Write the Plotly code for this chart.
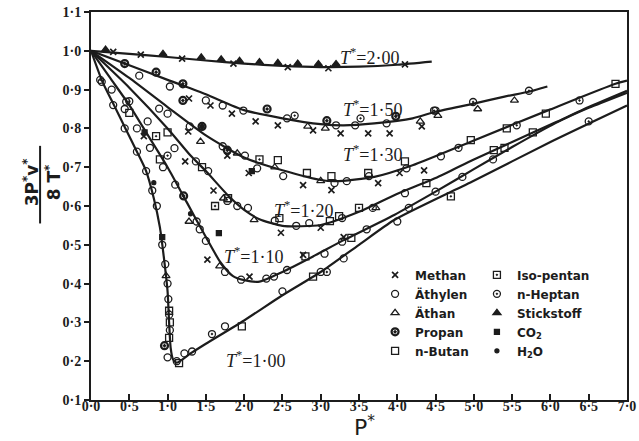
import plotly.graph_objects as go

# ---------------- data ----------------
x_ticks = [0.0, 0.5, 1.0, 1.5, 2.0, 2.5, 3.0, 3.5, 4.0, 4.5, 5.0, 5.5, 6.0, 6.5, 7.0]
x_ticklabels = ["0·0", "0·5", "1·0", "1·5", "2·0", "2·5", "3·0", "3·5", "4·0", "4·5",
                "5·0", "5·5", "6·0", "6·5", "7·0"]
y_ticks = [0.1, 0.2, 0.3, 0.4, 0.5, 0.6, 0.7, 0.8, 0.9, 1.0, 1.1]
y_ticklabels = ["0·1", "0·2", "0·3", "0·4", "0·5", "0·6", "0·7", "0·8", "0·9", "1·0", "1·1"]

# isotherm curves (P*, 3P*v*/8T*)
t200_x = [0, 0.5, 1.0, 1.5, 2.0, 2.5, 3.0, 3.5, 4.0, 4.45]
t200_y = [1.0, 0.992, 0.984, 0.975, 0.967, 0.961, 0.958, 0.959, 0.964, 0.972]

t150_x = [0, 0.5, 1.0, 1.5, 2.0, 2.5, 3.0, 3.3, 3.7, 4.2, 4.5, 5.0, 5.4, 5.73, 5.96]
t150_y = [1.0, 0.963, 0.925, 0.888, 0.847, 0.826, 0.811, 0.808, 0.813, 0.826, 0.843, 0.864, 0.882, 0.895, 0.908]

t130_x = [0, 0.5, 1.0, 1.5, 2.0, 2.5, 3.0, 3.2, 3.7, 4.2, 5.0, 6.0, 6.85, 7.0]
t130_y = [1.0, 0.93, 0.855, 0.782, 0.725, 0.692, 0.667, 0.664, 0.675, 0.705, 0.769, 0.849, 0.915, 0.923]

t120_x = [0, 0.5, 1.0, 1.3, 1.5, 1.8, 2.0, 2.2, 2.5, 3.0, 3.5, 3.96, 4.5, 5.0, 5.5, 6.06, 6.5, 7.0]
t120_y = [1.0, 0.905, 0.8, 0.73, 0.69, 0.625, 0.59, 0.566, 0.549, 0.551, 0.585, 0.628, 0.672, 0.72, 0.765, 0.815, 0.855, 0.897]

t110_x = [0, 0.25, 0.5, 0.75, 1.0, 1.25, 1.5, 1.69, 1.85, 2.0, 2.2, 2.5, 2.9, 3.3, 3.96, 4.5, 5.0, 5.5, 6.06, 6.5, 7.0]
t110_y = [1.0, 0.93, 0.86, 0.78, 0.7, 0.61, 0.52, 0.455, 0.42, 0.409, 0.405, 0.43, 0.47, 0.512, 0.577, 0.637, 0.695, 0.752, 0.813, 0.853, 0.892]

t100_x = [0, 0.15, 0.3, 0.45, 0.6, 0.72, 0.82, 0.9, 0.95, 1.0, 1.02, 1.04, 1.07, 1.12, 1.3, 1.5, 2.0, 2.5, 3.0, 3.5, 3.96, 5.0, 6.0, 7.0]
t100_y = [1.0, 0.92, 0.86, 0.8, 0.74, 0.69, 0.62, 0.545, 0.47, 0.38, 0.3, 0.235, 0.205, 0.196, 0.22, 0.245, 0.305, 0.37, 0.43, 0.5, 0.564, 0.665, 0.765, 0.859]

curve_labels = ["2·00", "1·50", "1·30", "1·20", "1·10", "1·00"]
label_x = [3.64, 3.67, 3.67, 2.78, 2.12, 2.15]
label_y = [0.985, 0.851, 0.736, 0.59, 0.473, 0.205]

# measured points, by substance
methan_x = [0.29, 0.65, 1.19, 1.86, 2.57, 3.1, 4.1,
            1.28, 1.56, 1.84, 2.15, 2.44, 2.9, 3.26, 3.62, 3.9, 4.32,
            0.69, 1.27, 1.78, 2.06, 2.77, 3.14, 3.75, 4.03, 4.35,
            1.23, 1.6, 2.48, 3.0,
            1.52, 2.07, 2.77, 3.3]
methan_y = [0.997, 0.99, 0.98, 0.967, 0.958, 0.955, 0.965,
            0.877, 0.859, 0.838, 0.818, 0.808, 0.795, 0.787, 0.787, 0.787, 0.805,
            0.78, 0.792, 0.73, 0.685, 0.654, 0.641, 0.659, 0.685, 0.692,
            0.715, 0.64, 0.531, 0.544,
            0.462, 0.418, 0.474, 0.52]

aethylen_x = [0.63, 1.03, 1.5, 1.72, 1.99, 2.56, 3.2, 3.45, 3.86, 4.5,
              0.89, 1.0, 1.29, 1.72, 2.01, 2.17, 2.51, 3.18, 3.34, 3.63, 4.12, 4.57,
              0.46, 0.74, 1.09, 1.37, 1.53, 1.78, 1.91, 2.05, 2.4, 2.68, 2.85, 3.28, 3.68, 4.1,
              0.27, 0.44, 0.6, 0.77, 0.94, 1.1, 1.38, 1.42, 1.5, 1.75, 1.96, 2.29, 2.39, 2.56,
              3.05, 3.28, 3.6, 4.15, 4.5, 4.85, 5.25,
              0.14, 0.29, 0.44, 0.6, 0.72, 0.8, 0.86, 0.93, 0.97, 1.0, 1.01, 1.02, 1.03,
              1.0, 1.12, 1.22, 1.32, 1.75, 2.5, 3.0, 3.3, 4.0]
aethylen_y = [0.936, 0.908, 0.872, 0.859, 0.846, 0.826, 0.808, 0.808, 0.813, 0.846,
              0.851, 0.838, 0.805, 0.754, 0.73, 0.697, 0.677, 0.659, 0.664, 0.677, 0.697, 0.728,
              0.869, 0.818, 0.749, 0.715, 0.69, 0.613, 0.6, 0.595, 0.562, 0.549, 0.556, 0.569, 0.595, 0.633,
              0.9, 0.85, 0.8, 0.75, 0.7, 0.655, 0.56, 0.54, 0.51, 0.43, 0.41, 0.413, 0.418, 0.435,
              0.477, 0.508, 0.54, 0.595, 0.637, 0.675, 0.72,
              0.92, 0.86, 0.8, 0.74, 0.69, 0.64, 0.6, 0.5, 0.45, 0.4, 0.36, 0.32, 0.28,
              0.21, 0.2, 0.22, 0.225, 0.29, 0.38, 0.43, 0.465, 0.56]

aethan_x = [2.83, 3.06, 4.3, 4.53, 5.05, 5.53,
            1.43, 1.91, 2.4, 3.0,
            1.73, 2.13, 3.72,
            1.28, 1.68,
            0.98]
aethan_y = [0.805, 0.8, 0.818, 0.833, 0.85, 0.872,
            0.766, 0.736, 0.7, 0.665,
            0.62, 0.564, 0.595,
            0.56, 0.445,
            0.42]

propan_x = [0.44, 0.85, 1.2, 2.3, 3.08, 3.98, 1.2, 1.45, 1.78, 1.21, 0.96]
propan_y = [0.967, 0.945, 0.915, 0.85, 0.82, 0.831, 0.872, 0.805, 0.744, 0.626, 0.24]

butan_x = [2.44, 2.82, 3.14, 3.62, 4.1, 4.96, 5.43, 5.94, 6.85,
           1.0, 1.45, 1.79, 2.46, 3.12, 3.24, 4.38, 5.26, 5.77,
           0.5, 0.9, 2.8, 3.4, 5.4,
           1.02, 1.03, 1.15, 1.97, 2.9]
butan_y = [0.718, 0.685, 0.677, 0.685, 0.715, 0.77, 0.8, 0.838, 0.915,
           0.79, 0.7, 0.62, 0.569, 0.561, 0.574, 0.659, 0.744, 0.79,
           0.84, 0.72, 0.47, 0.518, 0.75,
           0.26, 0.3, 0.195, 0.29, 0.418]

isopentan_x = [0.85, 1.62, 2.2, 3.5, 1.02, 4.7]
isopentan_y = [0.78, 0.6, 0.72, 0.595, 0.33, 0.625]

heptan_x = [2.66, 3.52, 4.48, 4.99, 5.72, 4.8, 5.56, 6.38, 0.5, 1.0, 3.08, 6.5, 1.58, 0.12]
heptan_y = [0.833, 0.826, 0.846, 0.868, 0.897, 0.75, 0.808, 0.872, 0.87, 0.73, 0.43, 0.818, 0.27, 0.925]

stickstoff_x = [0.19, 0.94, 1.44, 1.7, 1.94, 2.2, 2.44, 2.7, 2.97, 3.2]
stickstoff_y = [1.003, 0.992, 0.983, 0.978, 0.974, 0.971, 0.969, 0.967, 0.966, 0.966]

co2_x = [0.93, 1.67, 0.7, 2.1]
co2_y = [0.52, 0.53, 0.79, 0.69]

h2o_x = [1.45, 0.82, 1.3]
h2o_y = [0.805, 0.66, 0.58]

# ---------------- figure ----------------
ink = "#1c1c1c"
fig = go.Figure()

for cx, cy in [(t200_x, t200_y), (t150_x, t150_y), (t130_x, t130_y),
               (t120_x, t120_y), (t110_x, t110_y), (t100_x, t100_y)]:
    fig.add_trace(go.Scatter(x=cx, y=cy, mode="lines", showlegend=False,
                             line=dict(color=ink, width=2.2, shape="spline", smoothing=0.6),
                             hoverinfo="skip"))

def pts(name, xs, ys, symbol, size, legend, lw=1.3):
    fig.add_trace(go.Scatter(
        x=xs, y=ys, mode="markers", name=name, legend=legend,
        marker=dict(symbol=symbol, size=size, color=ink,
                    line=dict(color=ink, width=lw))))

pts("Methan", methan_x, methan_y, "x-thin", 6, "legend", 1.7)
pts("Äthylen", aethylen_x, aethylen_y, "circle-open", 7, "legend")
pts("Äthan", aethan_x, aethan_y, "triangle-up-open", 7, "legend")
pts("Propan", propan_x, propan_y, "circle-open-dot", 7, "legend", 2.2)
pts("n-Butan", butan_x, butan_y, "square-open", 7, "legend")
pts("Iso-pentan", isopentan_x, isopentan_y, "square-open-dot", 7, "legend2")
pts("n-Heptan", heptan_x, heptan_y, "circle-open-dot", 7, "legend2")
pts("Stickstoff", stickstoff_x, stickstoff_y, "triangle-up", 7, "legend2")
pts("CO<sub>2</sub>", co2_x, co2_y, "square", 5, "legend2")
pts("H<sub>2</sub>O", h2o_x, h2o_y, "circle", 4, "legend2")

for lab, lx, ly in zip(curve_labels, label_x, label_y):
    fig.add_annotation(x=lx, y=ly, xref="x", yref="y", showarrow=False,
                       text="<i>T</i><sup>*</sup>=" + lab,
                       font=dict(family="Liberation Serif", size=18, color=ink))

# y-axis title as a fraction: numerator, bar, denominator
fig.add_annotation(xref="paper", yref="paper", x=-0.137, y=0.56, showarrow=False,
                   textangle=-90, text="3P<sup>*</sup>v<sup>*</sup>",
                   font=dict(family="DejaVu Sans", size=17, color=ink, weight="bold"))
fig.add_annotation(xref="paper", yref="paper", x=-0.096, y=0.56, showarrow=False,
                   textangle=-90, text="8 T<sup>*</sup>",
                   font=dict(family="DejaVu Sans", size=17, color=ink, weight="bold"))
fig.add_shape(type="line", xref="paper", yref="paper", x0=-0.095, x1=-0.095,
              y0=0.455, y1=0.655, line=dict(color=ink, width=2))

# x-axis title
fig.add_annotation(xref="paper", yref="paper", x=0.51, y=-0.068, showarrow=False,
                   text="P<sup>*</sup>", yanchor="middle",
                   font=dict(family="DejaVu Sans", size=22, color=ink))

legend_font = dict(family="DejaVu Sans", size=12, color=ink, weight="bold")
fig.update_layout(
    width=639, height=441,
    margin=dict(l=91, r=12, t=12, b=41),
    paper_bgcolor="white", plot_bgcolor="white",
    showlegend=True,
    legend=dict(x=0.53, y=0.36, xanchor="left", yanchor="top", font=legend_font,
                bgcolor="rgba(0,0,0,0)"),
    legend2=dict(x=0.72, y=0.36, xanchor="left", yanchor="top", font=legend_font,
                 bgcolor="rgba(0,0,0,0)"),
    xaxis=dict(range=[0, 7], tickvals=x_ticks, ticktext=x_ticklabels, automargin=False,
               showgrid=False, zeroline=False, showline=True, linecolor=ink,
               linewidth=2, mirror=True, ticks="inside", ticklen=6, tickwidth=1.5,
               tickcolor=ink, ticklabelstandoff=-8,
               tickfont=dict(family="Liberation Serif", size=14, color=ink, weight="bold")),
    yaxis=dict(range=[0.1, 1.1], tickvals=y_ticks, ticktext=y_ticklabels, automargin=False,
               showgrid=False, zeroline=False, showline=True, linecolor=ink,
               linewidth=2, mirror=True, ticks="outside", ticklen=5, tickwidth=1.5,
               tickcolor=ink,
               tickfont=dict(family="Liberation Serif", size=14, color=ink, weight="bold")),
)

fig.write_html("out.html", config={"displayModeBar": False},
               post_script="document.body.style.margin='0px';document.body.style.padding='0px';")
